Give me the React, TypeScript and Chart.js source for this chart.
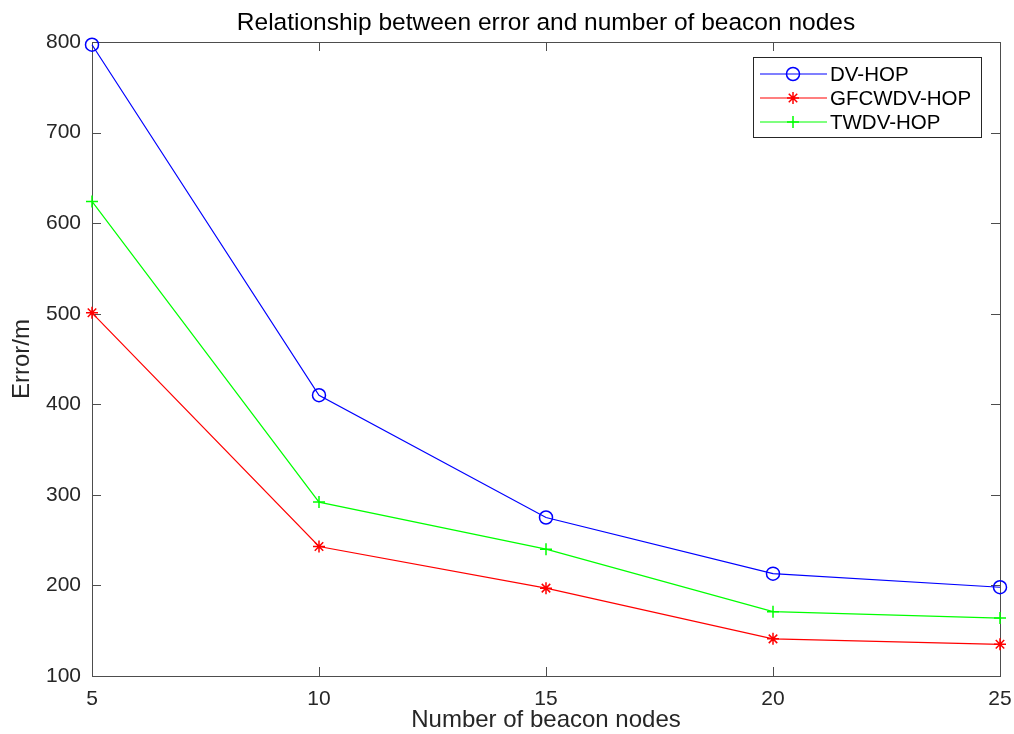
import React, { useEffect, useRef } from "react";
import { Chart, registerables } from "chart.js";

Chart.register(...registerables);

const beaconNodes = [5, 10, 15, 20, 25];
const dvHop = [797, 410, 275, 213, 198];
const gfcwdvHop = [501, 243, 197, 141, 135];
const twdvHop = [624, 292, 240, 171, 164];
const seriesLabels = ["DV-HOP", "GFCWDV-HOP", "TWDV-HOP"];
const seriesColors = ["#0000ff", "#ff0000", "#00ff00"];
const seriesMarkers = ["circle", "star", "cross"];
const xTicks = [5, 10, 15, 20, 25];
const yTicks = [100, 200, 300, 400, 500, 600, 700, 800];
const titleText = "Relationship between error and number of beacon nodes";
const xLabel = "Number of beacon nodes";
const yLabel = "Error/m";

const FONT = "'Liberation Sans', Arial, sans-serif";

function drawMarker(ctx: CanvasRenderingContext2D, style: string, x: number, y: number, r: number, color: string) {
  ctx.save();
  ctx.strokeStyle = color;
  ctx.lineWidth = 1.5;
  ctx.beginPath();
  if (style === "circle") {
    ctx.arc(x, y, r, 0, Math.PI * 2);
  } else if (style === "cross") {
    ctx.moveTo(x - r, y); ctx.lineTo(x + r, y);
    ctx.moveTo(x, y - r); ctx.lineTo(x, y + r);
  } else {
    for (let i = 0; i < 4; i++) {
      const a = (i * Math.PI) / 4;
      ctx.moveTo(x - r * Math.cos(a), y - r * Math.sin(a));
      ctx.lineTo(x + r * Math.cos(a), y + r * Math.sin(a));
    }
  }
  ctx.stroke();
  ctx.restore();
}

const boxPlugin = {
  id: "matlabBox",
  beforeDatasetsDraw(chart: any) {
    const { ctx, chartArea } = chart;
    const { left, right, top, bottom } = chartArea;
    const xs = chart.scales.x;
    const ys = chart.scales.y;
    ctx.save();
    ctx.strokeStyle = "#4d4d4d";
    ctx.lineWidth = 1;
    ctx.strokeRect(Math.round(left) + 0.5, Math.round(top) + 0.5, Math.round(right - left), Math.round(bottom - top));
    ctx.beginPath();
    const tl = 9;
    for (const v of yTicks) {
      const py = Math.round(ys.getPixelForValue(v)) + 0.5;
      ctx.moveTo(left, py); ctx.lineTo(left + tl, py);
      ctx.moveTo(right, py); ctx.lineTo(right - tl, py);
    }
    for (const v of xTicks) {
      const px = Math.round(xs.getPixelForValue(v)) + 0.5;
      ctx.moveTo(px, bottom); ctx.lineTo(px, bottom - tl);
      ctx.moveTo(px, top); ctx.lineTo(px, top + tl);
    }
    ctx.stroke();
    // title centered over the plot area
    ctx.fillStyle = "#000000";
    ctx.font = `24.5px ${FONT}`;
    ctx.textAlign = "center";
    ctx.textBaseline = "alphabetic";
    ctx.fillText(titleText, (left + right) / 2, 30);
    ctx.restore();
  },
  afterDraw(chart: any) {
    const { ctx } = chart;
    const bx = 753, by = 57, bw = 228, bh = 80;
    ctx.save();
    ctx.fillStyle = "#ffffff";
    ctx.fillRect(bx, by, bw, bh);
    ctx.strokeStyle = "#262626";
    ctx.lineWidth = 1;
    ctx.strokeRect(bx + 0.5, by + 0.5, bw, bh);
    ctx.font = `20.5px ${FONT}`;
    ctx.textBaseline = "middle";
    ctx.textAlign = "left";
    for (let i = 0; i < seriesLabels.length; i++) {
      const cy = 74 + i * 24;
      ctx.strokeStyle = seriesColors[i];
      ctx.lineWidth = 1.2;
      ctx.beginPath();
      ctx.moveTo(760, cy); ctx.lineTo(827, cy);
      ctx.stroke();
      drawMarker(ctx, seriesMarkers[i], 793, cy, seriesMarkers[i] === "circle" ? 6.5 : 6, seriesColors[i]);
      ctx.fillStyle = "#000000";
      ctx.fillText(seriesLabels[i], 830, cy + 1);
    }
    ctx.restore();
  },
};

export default function App() {
  const ref = useRef<HTMLCanvasElement | null>(null);
  useEffect(() => {
    if (!ref.current) return;
    const mk = (vals: number[], i: number) => ({
      label: seriesLabels[i],
      data: beaconNodes.map((x, j) => ({ x, y: vals[j] })),
      borderColor: seriesColors[i],
      backgroundColor: "rgba(0,0,0,0)",
      borderWidth: 1.2,
      pointStyle: seriesMarkers[i] as any,
      pointRadius: seriesMarkers[i] === "circle" ? 6.5 : 6,
      pointBorderWidth: 1.5,
      pointBorderColor: seriesColors[i],
      pointBackgroundColor: "rgba(0,0,0,0)",
      tension: 0,
      clip: false as any,
    });
    const chart = new Chart(ref.current, {
      type: "line",
      data: {
        datasets: [mk(dvHop, 0), mk(gfcwdvHop, 1), mk(twdvHop, 2)],
      },
      options: {
        animation: false,
        responsive: false,
        devicePixelRatio: 1,
        layout: { padding: { top: 42, right: 14, bottom: 0, left: 0 } },
        plugins: {
          legend: { display: false },
          tooltip: { enabled: false },
          title: { display: false },
        },
        scales: {
          x: {
            type: "linear",
            min: 5,
            max: 25,
            afterFit: (s: any) => { s.height = 58; s.paddingLeft = 0; s.paddingRight = 0; },
            afterBuildTicks: (s: any) => { s.ticks = xTicks.map((v) => ({ value: v })); },
            grid: { display: false, drawTicks: false },
            border: { display: false },
            ticks: { color: "#262626", padding: 11, font: { family: FONT, size: 21 }, maxRotation: 0 },
            title: {
              display: true,
              text: xLabel,
              color: "#262626",
              font: { family: FONT, size: 24, lineHeight: 1.1 },
              padding: { top: 0, bottom: 0 },
            },
          },
          y: {
            type: "linear",
            min: 100,
            max: 800,
            afterFit: (s: any) => { s.width = 92; s.paddingTop = 0; s.paddingBottom = 0; },
            afterBuildTicks: (s: any) => { s.ticks = yTicks.map((v) => ({ value: v })); },
            grid: { display: false, drawTicks: false },
            border: { display: false },
            ticks: { color: "#262626", padding: 11, font: { family: FONT, size: 21 } },
            title: {
              display: true,
              text: yLabel,
              color: "#262626",
              font: { family: FONT, size: 24, lineHeight: 1.2 },
              padding: { top: 8, bottom: 0 },
            },
          },
        },
      },
      plugins: [boxPlugin],
    });
    return () => chart.destroy();
  }, []);
  return (
    <div style={{ position: "fixed", left: 0, top: 0, width: 1014, height: 734, background: "#ffffff" }}>
      <canvas ref={ref} width={1014} height={734} style={{ width: 1014, height: 734, display: "block" }} />
    </div>
  );
}
